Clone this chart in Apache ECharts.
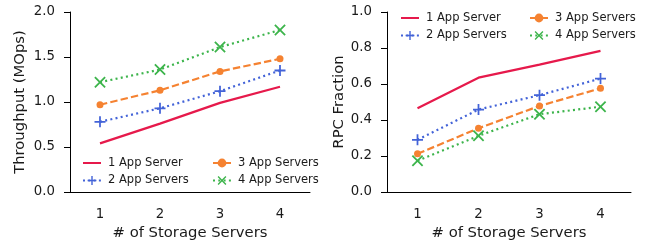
<!DOCTYPE html>
<html><head><meta charset="utf-8">
<script src="https://cdn.jsdelivr.net/npm/echarts@6/dist/echarts.min.js"></script>
<style>html,body{margin:0;padding:0;background:#fff}#c{width:651px;height:241px}</style>
</head><body><div id="c"></div>
<script>
const categories = ['1', '2', '3', '4'];
const seriesNames = ['1 App Server', '2 App Servers', '3 App Servers', '4 App Servers'];
const throughput1 = [0.54, 0.76, 0.99, 1.17];
const throughput2 = [0.78, 0.93, 1.12, 1.35];
const throughput3 = [0.97, 1.13, 1.34, 1.48];
const throughput4 = [1.22, 1.36, 1.61, 1.80];
const rpc1 = [0.465, 0.635, 0.708, 0.784];
const rpc2 = [0.29, 0.458, 0.538, 0.63];
const rpc3 = [0.212, 0.354, 0.478, 0.576];
const rpc4 = [0.174, 0.312, 0.432, 0.474];
const leftTicks = { min: 0, max: 2, interval: 0.5 };
const rightTicks = { min: 0, max: 1, interval: 0.2 };

const colors = ['#e6194b', '#4363d8', '#f58231', '#3cb44b'];
const PLUS = 'path://M4.2,0 H5.8 V4.2 H10 V5.8 H5.8 V10 H4.2 V5.8 H0 V4.2 H4.2 Z';
const CROSS = 'path://M0,1.1 L1.1,0 L5,3.9 L8.9,0 L10,1.1 L6.1,5 L10,8.9 L8.9,10 L5,6.1 L1.1,10 L0,8.9 L3.9,5 Z';
const styles = [
  { type: 'solid', symbol: 'none', size: 0 },
  { type: [2, 3.3], symbol: PLUS, size: 11 },
  { type: [7.4, 3.2], symbol: 'circle', size: 7 },
  { type: [2, 3.3], symbol: CROSS, size: 11.5 }
];
const textColor = '#1a1a1a';
const font = 'DejaVu Sans';

function mkSeries(data, idx, axisIdx) {
  const s = styles[idx];
  return {
    name: seriesNames[idx], type: 'line', data: data,
    xAxisIndex: axisIdx, yAxisIndex: axisIdx,
    symbol: s.symbol, symbolSize: s.size, showSymbol: s.symbol !== 'none',
    lineStyle: { color: colors[idx], width: 2.2, type: s.type },
    itemStyle: { color: colors[idx] },
    animation: false, z: 3 + idx
  };
}

function xAx(gi) {
  return {
    type: 'category', data: categories, gridIndex: gi, boundaryGap: true,
    name: '# of Storage Servers', nameLocation: 'middle', nameGap: 33,
    nameTextStyle: { fontFamily: font, fontSize: 14.8, color: textColor },
    axisLine: { lineStyle: { color: '#000', width: 1 } },
    axisTick: { alignWithLabel: true, length: 6, lineStyle: { color: '#000' } },
    axisLabel: { fontFamily: font, fontSize: 13.3, color: textColor, margin: 16 },
    splitLine: { show: false }
  };
}
function yAx(gi, t, name, gap) {
  return {
    type: 'value', gridIndex: gi, min: t.min, max: t.max, interval: t.interval,
    name: name, nameLocation: 'middle', nameGap: gap, nameRotate: 90,
    nameTextStyle: { fontFamily: font, fontSize: 14.8, color: textColor },
    axisLine: { show: true, lineStyle: { color: '#000', width: 1 } },
    axisTick: { show: true, length: 6, lineStyle: { color: '#000' } },
    axisLabel: { fontFamily: font, fontSize: 13.3, color: textColor, margin: 15, formatter: v => v.toFixed(1) },
    splitLine: { show: false }
  };
}
function legend(names, left, top) {
  return {
    data: names, orient: 'vertical', left: left, top: top,
    itemWidth: 18, itemHeight: 11, itemGap: 5.5,
    textStyle: { fontFamily: font, fontSize: 11.5, color: textColor, padding: [0, 0, 0, 2] },
    padding: 0, selectedMode: false
  };
}
const firstItem = { name: seriesNames[0], itemStyle: { opacity: 0 } };

const chart = echarts.init(document.getElementById('c'), null, { renderer: 'canvas' });
chart.setOption({
  backgroundColor: '#fff',
  animation: false,
  grid: [
    { left: 70, right: 341, top: 12, bottom: 49, containLabel: false, outerBoundsMode: 'none' },
    { left: 387, right: 20, top: 12, bottom: 49, containLabel: false, outerBoundsMode: 'none' }
  ],
  xAxis: [xAx(0), xAx(1)],
  yAxis: [yAx(0, leftTicks, 'Throughput (MOps)', 42), yAx(1, rightTicks, 'RPC Fraction', 39)],
  legend: [
    legend([firstItem, seriesNames[1]], 82, 157),
    legend([seriesNames[2], seriesNames[3]], 212, 157),
    legend([firstItem, seriesNames[1]], 400, 12),
    legend([seriesNames[2], seriesNames[3]], 529, 12)
  ],
  series: [
    mkSeries(throughput1, 0, 0), mkSeries(throughput2, 1, 0), mkSeries(throughput3, 2, 0), mkSeries(throughput4, 3, 0),
    mkSeries(rpc1, 0, 1), mkSeries(rpc2, 1, 1), mkSeries(rpc3, 2, 1), mkSeries(rpc4, 3, 1)
  ]
});
</script></body></html>
